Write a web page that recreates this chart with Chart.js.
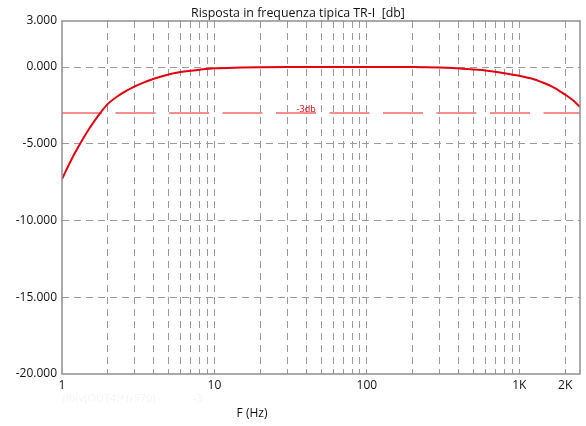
<!DOCTYPE html>
<html>
<head>
<meta charset="utf-8">
<script src="https://cdn.jsdelivr.net/npm/chart.js@4"></script>
<style>
  html, body { margin: 0; padding: 0; background: #fff; }
  .wrap { width: 586px; height: 426px; }
</style>
</head>
<body>
<div class="wrap"><canvas class="freq-chart" width="586" height="426"></canvas></div>
<script>
// values
const freqs = [1, 1.13, 1.28, 1.5, 1.78, 2, 2.4, 3, 3.5, 4, 5, 6, 7, 8, 10, 15, 20, 30, 50, 100, 200, 300, 450, 600, 800, 1000, 1200, 1400, 1700, 2000, 2250, 2500];
const dbValues = [-7.3, -6.2, -5.2, -4.05, -3.0, -2.4, -1.8, -1.26, -0.98, -0.76, -0.48, -0.33, -0.24, -0.17, -0.08, -0.03, -0.01, 0, 0, 0, 0, -0.03, -0.12, -0.22, -0.4, -0.57, -0.75, -0.98, -1.35, -1.8, -2.17, -2.6];
const refLevel = -3;
const refLabel = "-3db";
const xGrid = [1, 2, 3, 4, 5, 6, 7, 8, 9, 10, 20, 30, 40, 50, 60, 70, 80, 90, 100, 200, 300, 400, 500, 600, 700, 800, 900, 1000, 2000];
const xLabelValues = [1, 10, 100, 1000, 2000];
const xLabelTexts = ["1", "10", "100", "1K", "2K"];
const yTicks = [3, 0, -5, -10, -15, -20];
const xMin = 1, xMax = 2500;

const FONT = "'Open Sans', 'DejaVu Sans', sans-serif";

const extras = {
  id: "extras",
  afterDraw(chart) {
    const ctx = chart.ctx;
    const a = chart.chartArea;
    const x = chart.scales.x, y = chart.scales.y;
    ctx.save();
    // frame
    ctx.strokeStyle = "#8f8f8f";
    ctx.lineWidth = 1.5;
    ctx.strokeRect(a.left, a.top, a.right - a.left, a.bottom - a.top);
    // title
    ctx.fillStyle = "#111";
    ctx.font = "12.4px " + FONT;
    ctx.textAlign = "center";
    ctx.textBaseline = "alphabetic";
    ctx.fillText("Risposta in frequenza tipica TR-I  [db]", 298, 17);
    // -3db label
    ctx.fillStyle = "#e3000f";
    ctx.font = "9px " + FONT;
    ctx.fillText(refLabel, x.getPixelForValue(40), y.getPixelForValue(refLevel) - 1);
    // axis title
    ctx.fillStyle = "#111";
    ctx.font = "12px " + FONT;
    ctx.fillText("F (Hz)", 252, 417);
    // faint legend leftover
    ctx.fillStyle = "#f4f4f4";
    ctx.font = "11px " + FONT;
    ctx.textAlign = "left";
    ctx.fillText("db(v(OUT4)*f/570)", 62, 402);
    ctx.fillText("-3", 193, 402);
    ctx.restore();
  }
};

const curve = freqs.map((f, i) => ({ x: f, y: dbValues[i] }));

new Chart(document.querySelector(".freq-chart"), {
  type: "line",
  data: {
    datasets: [
      {
        data: curve,
        borderColor: "#e3000f",
        borderWidth: 2,
        pointRadius: 0,
        cubicInterpolationMode: "monotone",
        fill: false,
      },
      {
        data: [{ x: xMin, y: refLevel }, { x: xMax, y: refLevel }],
        borderColor: "#f26a6a",
        borderWidth: 1.5,
        borderDash: [40, 13.5],
        pointRadius: 0,
        fill: false,
      },
    ],
  },
  options: {
    responsive: false,
    animation: false,
    layout: {
      padding: { top: 21, right: 6, left: 0, bottom: 0 }
    },
    plugins: {
      legend: { display: false },
      title: { display: false },
      tooltip: { enabled: false },
    },
    scales: {
      x: {
        type: "logarithmic",
        min: xMin,
        max: xMax,
        afterBuildTicks: (s) => { s.ticks = xGrid.map(v => ({ value: v })); },
        afterFit: (s) => { s.height = 52; },
        grid: {
          color: (c) => (c.tick && c.tick.value === xMin) ? "rgba(0,0,0,0)" : "#9a9a9a",
          lineWidth: 1,
          drawTicks: false,
        },
        border: { display: false, dash: [7, 5] },
        ticks: {
          autoSkip: false,
          maxRotation: 0,
          padding: 4,
          color: "#111",
          font: { family: FONT, size: 12 },
          callback: (v) => {
            const i = xLabelValues.indexOf(v);
            return i >= 0 ? xLabelTexts[i] : "";
          },
        },
      },
      y: {
        type: "linear",
        min: -20,
        max: 3,
        afterBuildTicks: (s) => { s.ticks = yTicks.map(v => ({ value: v })); },
        afterFit: (s) => { s.width = 62; },
        grid: {
          color: (c) => (c.tick && (c.tick.value === 3 || c.tick.value === -20)) ? "rgba(0,0,0,0)" : "#9a9a9a",
          lineWidth: 1,
          drawTicks: false,
        },
        border: { display: false, dash: [7, 5] },
        ticks: {
          padding: 5,
          color: "#111",
          font: { family: FONT, size: 12 },
          callback: (v) => Number(v).toFixed(3),
        },
      },
    },
  },
  plugins: [extras],
});
</script>
</body>
</html>
